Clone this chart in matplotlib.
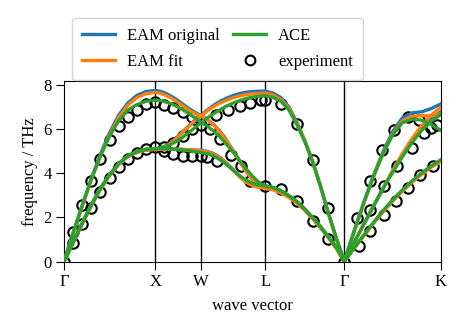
import numpy as np
import matplotlib
matplotlib.use("Agg")
import matplotlib.pyplot as plt
from matplotlib.lines import Line2D

plt.rcParams["font.family"] = ["Liberation Serif", "DejaVu Serif"]
plt.rcParams["font.size"] = 12

# high-symmetry path G-X-W-L-G-K (lengths in 2pi/a)
point_labels = ["Γ", "X", "W", "L", "Γ", "K"]
seg_len = [1.0, 0.5, np.sqrt(2) / 2, np.sqrt(3) / 2, 3 * np.sqrt(2) / 4]
frac = [0.0, 0.1, 0.2, 0.3, 0.4, 0.5, 0.6, 0.7, 0.8, 0.9, 1.0]

# branches, one list per segment (GX, XW, WL, LG, GK), values in THz
orig_hi = [
    [0, 1.30, 2.55, 3.78, 4.88, 5.85, 6.65, 7.20, 7.55, 7.72, 7.77],
    [7.77, 7.74, 7.67, 7.57, 7.45, 7.31, 7.16, 7.01, 6.87, 6.74, 6.64],
    [6.64, 6.47, 6.22, 5.90, 5.50, 5.05, 4.58, 4.13, 3.75, 3.50, 3.40],
    [3.40, 3.32, 3.17, 2.96, 2.70, 2.36, 1.98, 1.56, 1.10, 0.62, 0],
    [0, 0.84, 1.67, 2.50, 3.32, 4.12, 4.88, 5.55, 6.10, 6.50, 6.80],
]
orig_mid = [
    [0, 0.87, 1.73, 2.55, 3.30, 3.92, 4.42, 4.77, 4.97, 5.07, 5.10],
    [5.10, 5.14, 5.22, 5.34, 5.50, 5.69, 5.89, 6.09, 6.29, 6.47, 6.64],
    [6.64, 6.88, 7.10, 7.28, 7.42, 7.54, 7.63, 7.69, 7.72, 7.74, 7.74],
    [7.74, 7.65, 7.44, 7.02, 6.33, 5.50, 4.55, 3.42, 2.18, 1.05, 0],
    [0, 1.35, 2.66, 3.88, 4.98, 5.90, 6.52, 6.75, 6.80, 6.95, 7.16],
]
orig_lo = [
    [0, 0.87, 1.73, 2.55, 3.30, 3.92, 4.42, 4.77, 4.97, 5.07, 5.10],
    [5.10, 5.10, 5.10, 5.10, 5.10, 5.10, 5.09, 5.08, 5.07, 5.06, 5.05],
    [5.05, 5.00, 4.90, 4.72, 4.47, 4.18, 3.88, 3.63, 3.48, 3.42, 3.40],
    [3.40, 3.32, 3.17, 2.96, 2.70, 2.36, 1.98, 1.56, 1.10, 0.62, 0],
    [0, 0.59, 1.17, 1.73, 2.27, 2.76, 3.21, 3.62, 3.98, 4.30, 4.58],
]

fit_hi = [
    [0, 1.28, 2.52, 3.72, 4.80, 5.75, 6.55, 7.10, 7.45, 7.62, 7.68],
    [7.68, 7.65, 7.58, 7.48, 7.36, 7.22, 7.08, 6.94, 6.80, 6.70, 6.62],
    [6.62, 6.45, 6.20, 5.88, 5.48, 5.02, 4.55, 4.10, 3.72, 3.45, 3.33],
    [3.33, 3.26, 3.12, 2.92, 2.66, 2.33, 1.95, 1.53, 1.08, 0.60, 0],
    [0, 0.84, 1.67, 2.50, 3.32, 4.12, 4.88, 5.58, 6.18, 6.65, 7.02],
]
fit_mid = [
    [0, 0.87, 1.73, 2.55, 3.30, 3.92, 4.42, 4.77, 4.97, 5.07, 5.10],
    [5.10, 5.13, 5.20, 5.32, 5.48, 5.66, 5.86, 6.06, 6.26, 6.45, 6.62],
    [6.62, 6.84, 7.04, 7.20, 7.33, 7.44, 7.52, 7.58, 7.62, 7.64, 7.65],
    [7.65, 7.56, 7.35, 6.95, 6.28, 5.48, 4.53, 3.40, 2.17, 1.04, 0],
    [0, 1.33, 2.62, 3.82, 4.90, 5.80, 6.38, 6.60, 6.62, 6.62, 6.70],
]
fit_lo = [
    [0, 0.87, 1.73, 2.55, 3.30, 3.92, 4.42, 4.77, 4.97, 5.07, 5.10],
    [5.10, 5.10, 5.10, 5.10, 5.10, 5.10, 5.09, 5.08, 5.07, 5.05, 5.03],
    [5.03, 4.98, 4.88, 4.70, 4.45, 4.15, 3.85, 3.60, 3.45, 3.37, 3.33],
    [3.33, 3.26, 3.12, 2.92, 2.66, 2.33, 1.95, 1.53, 1.08, 0.60, 0],
    [0, 0.58, 1.16, 1.72, 2.25, 2.74, 3.19, 3.60, 3.96, 4.28, 4.55],
]

ace_hi = [
    [0, 1.30, 2.55, 3.75, 4.80, 5.70, 6.40, 6.88, 7.13, 7.28, 7.33],
    [7.33, 7.31, 7.27, 7.20, 7.12, 7.02, 6.90, 6.77, 6.63, 6.48, 6.33],
    [6.33, 6.15, 5.92, 5.65, 5.32, 4.97, 4.60, 4.22, 3.88, 3.60, 3.44],
    [3.44, 3.36, 3.21, 2.99, 2.73, 2.38, 2.00, 1.58, 1.12, 0.64, 0],
    [0, 0.85, 1.68, 2.50, 3.30, 4.05, 4.75, 5.40, 5.95, 6.38, 6.68],
]
ace_mid = [
    [0, 0.88, 1.75, 2.58, 3.33, 3.95, 4.45, 4.80, 5.00, 5.10, 5.13],
    [5.13, 5.15, 5.20, 5.28, 5.38, 5.50, 5.64, 5.80, 5.96, 6.13, 6.30],
    [6.30, 6.52, 6.72, 6.90, 7.06, 7.20, 7.31, 7.40, 7.47, 7.51, 7.53],
    [7.53, 7.45, 7.27, 6.88, 6.22, 5.45, 4.52, 3.40, 2.18, 1.05, 0],
    [0, 1.35, 2.65, 3.85, 4.90, 5.75, 6.30, 6.47, 6.42, 6.22, 5.95],
]
ace_lo = [
    [0, 0.88, 1.75, 2.58, 3.33, 3.95, 4.45, 4.80, 5.00, 5.10, 5.13],
    [5.13, 5.13, 5.12, 5.11, 5.10, 5.08, 5.06, 5.04, 5.01, 4.98, 4.95],
    [4.95, 4.90, 4.80, 4.62, 4.40, 4.15, 3.90, 3.70, 3.55, 3.47, 3.44],
    [3.44, 3.36, 3.21, 2.99, 2.73, 2.38, 2.00, 1.58, 1.12, 0.64, 0],
    [0, 0.60, 1.19, 1.76, 2.30, 2.80, 3.25, 3.66, 4.02, 4.35, 4.63],
]

# experiment: fraction along each segment and frequency
exp_GX_frac = [0, .1, .2, .3, .4, .5, .6, .7, .8, .9, 1.0,
               .1, .2, .3, .4, .5, .6, .7, .8, .9, 1.0]
exp_GX_freq = [0, 1.32, 2.55, 3.65, 4.65, 5.50, 6.15, 6.55, 6.90, 7.15, 7.25,
               0.86, 1.70, 2.45, 3.15, 3.80, 4.30, 4.65, 4.95, 5.10, 5.20]
exp_XW_frac = [.2, .4, .6, .8, .2, .4, .6, .8, 1.0, .2, .4, .6, .8, 1.0]
exp_XW_freq = [7.11, 6.96, 6.80, 6.55, 5.22, 5.40, 5.68, 6.02, 6.20,
               5.00, 4.88, 4.80, 4.78, 4.78]
exp_WL_frac = [.15, .3, .47, .62, .77, .24, .42, .61, .76, .94, .1, .25]
exp_WL_freq = [6.00, 5.55, 4.85, 4.35, 3.65, 6.67, 6.90, 7.05, 7.20, 7.35,
               4.75, 4.55]
exp_LG_frac = [0, .2, .4, .6, .8, 0, .2, .4, .6, .8, 1.0]
exp_LG_freq = [7.35, 7.15, 6.24, 4.60, 2.45, 3.45, 3.29, 2.76, 1.85, 1.01, 0]
exp_GK_frac = [.13, .27, .39, .51, .66, .77, .9,
               .27, .41, .54, .70, .82, .96,
               .15, .27, .41, .53, .66, .78, .92]
exp_GK_freq = [1.98, 3.64, 5.08, 5.99, 6.55, 6.45, 6.05,
               2.36, 3.42, 4.33, 5.16, 5.84, 6.22,
               0.69, 1.37, 2.13, 2.74, 3.34, 3.95, 4.33]

starts = np.concatenate([[0], np.cumsum(seg_len)])


def path_line(branch):
    xs, ys = [], []
    for i, vals in enumerate(branch):
        xs.extend(starts[i] + np.array(frac) * seg_len[i])
        ys.extend(vals)
    return xs, ys


fig = plt.figure(figsize=(4.66, 3.33), dpi=100)
ax = fig.add_axes([64 / 466, 1 - 261.5 / 333, 377 / 466, 180.5 / 333])

exp_sets = [(exp_GX_frac, exp_GX_freq), (exp_XW_frac, exp_XW_freq),
            (exp_WL_frac, exp_WL_freq), (exp_LG_frac, exp_LG_freq),
            (exp_GK_frac, exp_GK_freq)]
for i, (f, w) in enumerate(exp_sets):
    ax.plot(starts[i] + np.array(f) * seg_len[i], w, "o", ms=7.5, mfc="none",
            mec="black", mew=1.5, zorder=2)

models = [("EAM original", "tab:blue", [orig_hi, orig_mid, orig_lo]),
          ("EAM fit", "tab:orange", [fit_hi, fit_mid, fit_lo]),
          ("ACE", "tab:green", [ace_hi, ace_mid, ace_lo])]
for name, col, branches in models:
    for b in branches:
        x, y = path_line(b)
        ax.plot(x, y, color=col, lw=2.4, zorder=3)

for s in starts[1:-1]:
    ax.axvline(s, color="black", lw=1.0, zorder=1)

ax.set_xlim(0, starts[-1])
ax.set_ylim(0, 8.2)
ax.set_yticks([0, 2, 4, 6, 8])
ax.set_xticks(starts)
ax.set_xticklabels(point_labels)
ax.tick_params(length=5.5)
ax.set_xlabel("wave vector", labelpad=6)
ax.set_ylabel("frequency / THz")

handles = [Line2D([], [], color="tab:blue", lw=2.4),
           Line2D([], [], color="tab:orange", lw=2.4),
           Line2D([], [], color="tab:green", lw=2.4),
           Line2D([], [], ls="none", marker="o", ms=7, mfc="none",
                  mec="black", mew=1.5)]
fig.legend(handles, ["EAM original", "EAM fit", "ACE", "experiment"], ncol=2,
           loc="lower left", bbox_to_anchor=(72 / 466, 1 - 80 / 333),
           borderaxespad=0, columnspacing=0.8, borderpad=0.6,
           labelspacing=0.62, handletextpad=0.7)

fig.savefig("out.png", dpi=100)
